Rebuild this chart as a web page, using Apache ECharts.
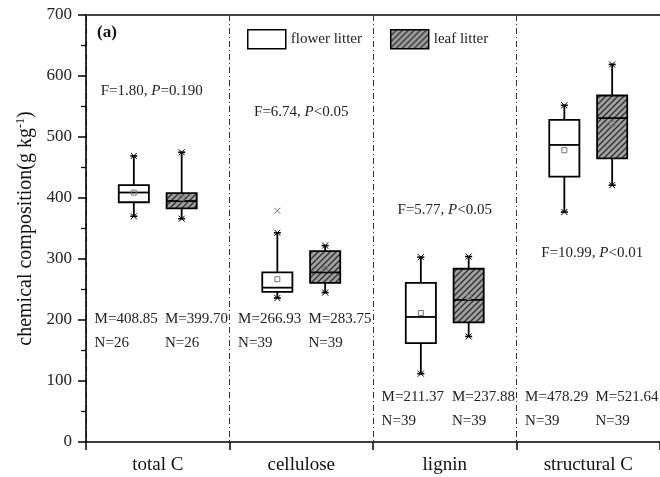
<!DOCTYPE html>
<html>
<head>
<meta charset="utf-8">
<script src="https://cdn.jsdelivr.net/npm/echarts@6/dist/echarts.min.js"></script>
<style>html,body{margin:0;padding:0;background:#fff}#c{width:660px;height:477px}</style>
</head>
<body>
<div id="c"></div>
<script>
// ---- data ----
const categories = ['total C', 'cellulose', 'lignin', 'structural C'];
// [min whisker, Q1, median, Q3, max whisker]
const flowerBox = [[370, 393, 409, 421, 469], [236, 246, 253, 278, 343], [112, 162, 205, 261, 303], [377, 435, 487, 528, 552]];
const leafBox = [[366, 383, 395, 408, 475], [245, 261, 278, 313, 322], [173, 196, 233, 284, 304], [421, 465, 531, 568, 619]];
const flowerMean = [408.85, 266.93, 211.37, 478.29];
const leafMean = [399.70, 283.75, 237.88, 521.64];
const flowerN = [26, 39, 39, 39];
const leafN = [26, 39, 39, 39];
const flowerOutliers = [[1, 379]];
const fValues = ['1.80', '6.74', '5.77', '10.99'];
const pValues = ['=0.190', '<0.05', '<0.05', '<0.01'];
const yMin = 0, yMax = 700, yInterval = 100;

// ---- layout (annotation anchor heights in data units) ----
const fTextY = [575, 541, 380, 310];
const fTextDx = [-6, 0, 0, 4];
const statsY = [201, 201, 74, 74];

const FONT = '"Liberation Serif", "Times New Roman", serif';

// hatch pattern
const pc = document.createElement('canvas');
pc.width = 6; pc.height = 6;
const pctx = pc.getContext('2d');
pctx.fillStyle = '#a0a0a0';
pctx.fillRect(0, 0, 6, 6);
pctx.strokeStyle = '#2e2e2e';
pctx.lineWidth = 1.3;
pctx.beginPath();
pctx.moveTo(0, 6); pctx.lineTo(6, 0);
pctx.moveTo(-3, 3); pctx.lineTo(3, -3);
pctx.moveTo(3, 9); pctx.lineTo(9, 3);
pctx.stroke();
const hatch = { image: pc, repeat: 'repeat' };

function boxRender(stats, means, side, fill, outliers) {
  return function (params, api) {
    const i = api.value(0);
    const s = stats[i];
    const band = api.size([1, 0])[0];
    const cx = api.coord([i, 0])[0] + side * band / 6;
    const w = band * 0.21;
    const Y = v => api.coord([i, v])[1];
    const lw = 1.8;
    const stroke = { stroke: '#000', lineWidth: lw };
    const ch = [];
    ch.push({ type: 'line', shape: { x1: cx, y1: Y(s[4]), x2: cx, y2: Y(s[3]) }, style: stroke });
    ch.push({ type: 'line', shape: { x1: cx, y1: Y(s[1]), x2: cx, y2: Y(s[0]) }, style: stroke });
    [s[0], s[4]].forEach(v => {
      const yy = Y(v);
      ch.push({ type: 'line', shape: { x1: cx - 3.5, y1: yy, x2: cx + 3.5, y2: yy }, style: { stroke: '#000', lineWidth: 1.6 } });
      ch.push({ type: 'line', shape: { x1: cx - 3, y1: yy - 3, x2: cx + 3, y2: yy + 3 }, style: { stroke: '#000', lineWidth: 1 } });
      ch.push({ type: 'line', shape: { x1: cx - 3, y1: yy + 3, x2: cx + 3, y2: yy - 3 }, style: { stroke: '#000', lineWidth: 1 } });
    });
    ch.push({ type: 'rect', shape: { x: cx - w / 2, y: Y(s[3]), width: w, height: Y(s[1]) - Y(s[3]) }, style: { fill: fill, stroke: '#000', lineWidth: lw } });
    ch.push({ type: 'line', shape: { x1: cx - w / 2, y1: Y(s[2]), x2: cx + w / 2, y2: Y(s[2]) }, style: stroke });
    const my = Y(means[i]);
    ch.push({ type: 'rect', shape: { x: cx - 2.5, y: my - 2.5, width: 5, height: 5 }, style: { fill: 'none', stroke: '#777', lineWidth: 1 } });
    outliers.filter(o => o[0] === i).forEach(o => {
      const oy = Y(o[1]);
      ch.push({ type: 'line', shape: { x1: cx - 3, y1: oy - 3, x2: cx + 3, y2: oy + 3 }, style: { stroke: '#777', lineWidth: 1 } });
      ch.push({ type: 'line', shape: { x1: cx - 3, y1: oy + 3, x2: cx + 3, y2: oy - 3 }, style: { stroke: '#777', lineWidth: 1 } });
    });
    return { type: 'group', children: ch };
  };
}

function annoRender(params, api) {
  const i = api.value(0);
  const cx = api.coord([i, 0])[0];
  const band = api.size([1, 0])[0];
  const ch = [];
  const fy = api.coord([i, fTextY[i]])[1];
  ch.push({
    type: 'text',
    style: {
      x: cx + fTextDx[i], y: fy, align: 'center', verticalAlign: 'middle',
      text: '{n|F=' + fValues[i] + ', }{i|P}{n|' + pValues[i] + '}',
      rich: {
        n: { fontFamily: FONT, fontSize: 15, fill: '#222' },
        i: { fontFamily: FONT, fontSize: 15, fontStyle: 'italic', fill: '#222' }
      }
    }
  });
  const sy = api.coord([i, statsY[i]])[1];
  const xs = [cx - band * 0.44, cx + band * 0.05];
  const ms = [flowerMean[i], leafMean[i]];
  const ns = [flowerN[i], leafN[i]];
  for (let k = 0; k < 2; k++) {
    ch.push({ type: 'text', style: { x: xs[k], y: sy, align: 'left', verticalAlign: 'middle', text: 'M=' + ms[k].toFixed(2), fontFamily: FONT, fontSize: 15, fill: '#222' } });
    ch.push({ type: 'text', style: { x: xs[k], y: sy + 24, align: 'left', verticalAlign: 'middle', text: 'N=' + ns[k], fontFamily: FONT, fontSize: 15, fill: '#222' } });
  }
  return { type: 'group', children: ch };
}

const chart = echarts.init(document.getElementById('c'), null, { renderer: 'canvas' });
chart.setOption({
  animation: false,
  backgroundColor: '#fff',
  grid: { left: 86, right: -3, top: 15, bottom: 35, show: false },
  legend: {
    left: 242, top: 24, itemWidth: 38, itemHeight: 19, itemGap: 28,
    textStyle: { fontFamily: FONT, fontSize: 15, color: '#222' },
    data: [
      { name: 'flower litter', icon: 'rect', itemStyle: { color: '#fff', borderColor: '#000', borderWidth: 1.5 } },
      { name: 'leaf litter', icon: 'rect', itemStyle: { color: hatch, borderColor: '#000', borderWidth: 1.5 } }
    ]
  },
  graphic: [{ type: 'text', left: 97, top: 24, style: { text: '(a)', fontFamily: FONT, fontSize: 17, fontWeight: 'bold', fill: '#111' } }],
  xAxis: [{
    type: 'category', data: categories, boundaryGap: true,
    axisLine: { lineStyle: { color: '#000', width: 1.6 } },
    axisTick: { show: true, alignWithLabel: false, length: 8, lineStyle: { color: '#000', width: 1.5 } },
    axisLabel: { fontFamily: FONT, fontSize: 19, color: '#111', margin: 14 },
    splitLine: { show: true, interval: 0, lineStyle: { color: '#333', width: 1, type: [6, 3, 1, 3] } }
  }, {
    type: 'category', data: categories, position: 'top',
    axisLine: { show: true, lineStyle: { color: '#444', width: 2 } },
    axisTick: { show: false }, axisLabel: { show: false }, splitLine: { show: false }
  }],
  yAxis: {
    type: 'value', min: yMin, max: yMax, interval: yInterval,
    name: 'chemical composition(g kg{sup|-1})', nameLocation: 'middle', nameGap: 49,
    nameTextStyle: { fontFamily: FONT, fontSize: 20, color: '#111', rich: { sup: { fontFamily: FONT, fontSize: 12, color: '#111', verticalAlign: 'top', padding: [0, 0, 10, 0] } } },
    axisLine: { show: true, lineStyle: { color: '#000', width: 1.6 } },
    axisTick: { show: true, length: 8, lineStyle: { color: '#000', width: 1.5 } },
    minorTick: { show: true, splitNumber: 2, length: 5, lineStyle: { color: '#000', width: 1.3 } },
    axisLabel: { fontFamily: FONT, fontSize: 17, color: '#222', margin: 14 },
    splitLine: { show: false }
  },
  series: [
    {
      name: 'flower litter', type: 'custom',
      renderItem: boxRender(flowerBox, flowerMean, -1, '#fff', flowerOutliers),
      encode: { x: 0, y: [1, 2, 3, 4, 5] },
      data: flowerBox.map((s, i) => [i].concat(s)),
      z: 5
    },
    {
      name: 'leaf litter', type: 'custom',
      renderItem: boxRender(leafBox, leafMean, 1, hatch, []),
      encode: { x: 0, y: [1, 2, 3, 4, 5] },
      data: leafBox.map((s, i) => [i].concat(s)),
      z: 5
    },
    {
      name: 'annotations', type: 'custom',
      renderItem: annoRender,
      encode: { x: 0, y: 1 },
      data: categories.map((c, i) => [i, fTextY[i]]),
      silent: true, z: 6
    }
  ]
});
</script>
</body>
</html>
